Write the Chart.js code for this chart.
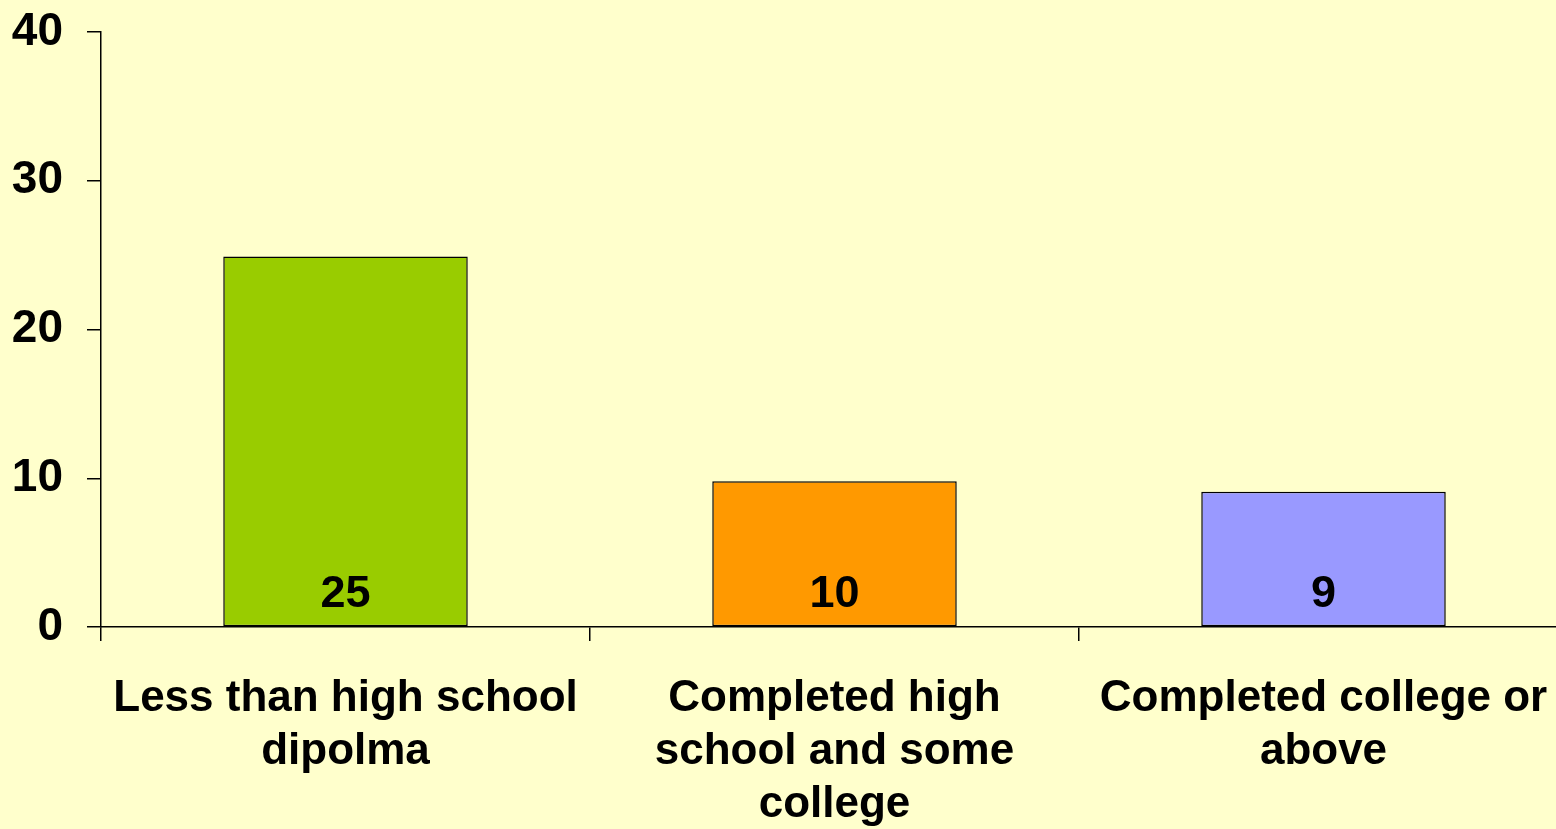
<!DOCTYPE html>
<html>
<head>
    <title>Education level</title>
    <style>
        html, body {
            margin: 0;
            padding: 0;
            background: #FFFFCC;
            overflow: hidden;
        }
        /* the plot runs past the right edge, so the canvas is a bit wider than the window */
        #chart-box {
            width: 1556px;
            height: 829px;
            overflow: hidden;
        }
    </style>
    <script src="https://cdn.jsdelivr.net/npm/chart.js"></script>
</head>
<body>
    <div id="chart-box">
        <canvas id="bar-chart" width="1568" height="829"></canvas>
    </div>
    <script>
        // values
        const categories = [
            ['Less than high school', 'dipolma'],
            ['Completed high', 'school and some', 'college'],
            ['Completed college or', 'above']
        ];
        const values = [24.9, 9.8, 9.1];
        const barColors = ['#99CC00', '#FF9900', '#9999FF'];
        const yTicks = [0, 10, 20, 30, 40];

        const fontFamily = "'Liberation Sans', Arial, sans-serif";

        // number printed near the bottom of each bar
        const barNumbers = {
            id: 'barNumbers',
            afterDatasetsDraw(chart) {
                const ctx = chart.ctx;
                const meta = chart.getDatasetMeta(0);
                const base = chart.scales.y.getPixelForValue(0);
                ctx.save();
                ctx.font = 'bold 45px ' + fontFamily;
                ctx.fillStyle = '#000000';
                ctx.textAlign = 'center';
                ctx.textBaseline = 'middle';
                meta.data.forEach(function(bar, i) {
                    ctx.fillText(values[i].toFixed(0), bar.x, base - 32);
                });
                ctx.restore();
            }
        };

        const ctx = document.getElementById('bar-chart').getContext('2d');
        const chart = new Chart(ctx, {
            type: 'bar',
            data: {
                labels: categories,
                datasets: [{
                    data: values,
                    backgroundColor: barColors,
                    borderColor: '#000000',
                    borderWidth: 1.5,
                    borderSkipped: false,
                    categoryPercentage: 1.0,
                    barPercentage: 0.5
                }]
            },
            options: {
                responsive: false,
                animation: false,
                layout: {
                    padding: { top: 32, right: 0, left: 0, bottom: 0 }
                },
                plugins: {
                    legend: { display: false },
                    tooltip: { enabled: false }
                },
                scales: {
                    x: {
                        grid: {
                            drawOnChartArea: false,
                            drawTicks: true,
                            tickLength: 14,
                            color: '#000000',
                            lineWidth: 1.5
                        },
                        border: { color: '#000000', width: 1.5 },
                        ticks: {
                            color: '#000000',
                            padding: 31,
                            maxRotation: 0,
                            autoSkip: false,
                            font: { family: fontFamily, size: 44, weight: 'bold', lineHeight: 1.21 }
                        },
                        afterFit(scale) {
                            scale.height = 202;
                            scale.paddingLeft = 0;
                            scale.paddingRight = 0;
                        }
                    },
                    y: {
                        min: 0,
                        max: 40,
                        afterBuildTicks(scale) {
                            scale.ticks = yTicks.map(function(v) { return { value: v }; });
                        },
                        grid: {
                            drawOnChartArea: false,
                            drawTicks: true,
                            tickLength: 14,
                            color: '#000000',
                            lineWidth: 1.5
                        },
                        border: { color: '#000000', width: 1.5 },
                        ticks: {
                            color: '#000000',
                            padding: 24,
                            font: { family: fontFamily, size: 46, weight: 'bold' }
                        },
                        afterFit(scale) {
                            scale.width = 101;
                            scale.paddingTop = 0;
                            scale.paddingBottom = 0;
                        }
                    }
                }
            },
            plugins: [barNumbers]
        });
    </script>
</body>
</html>
